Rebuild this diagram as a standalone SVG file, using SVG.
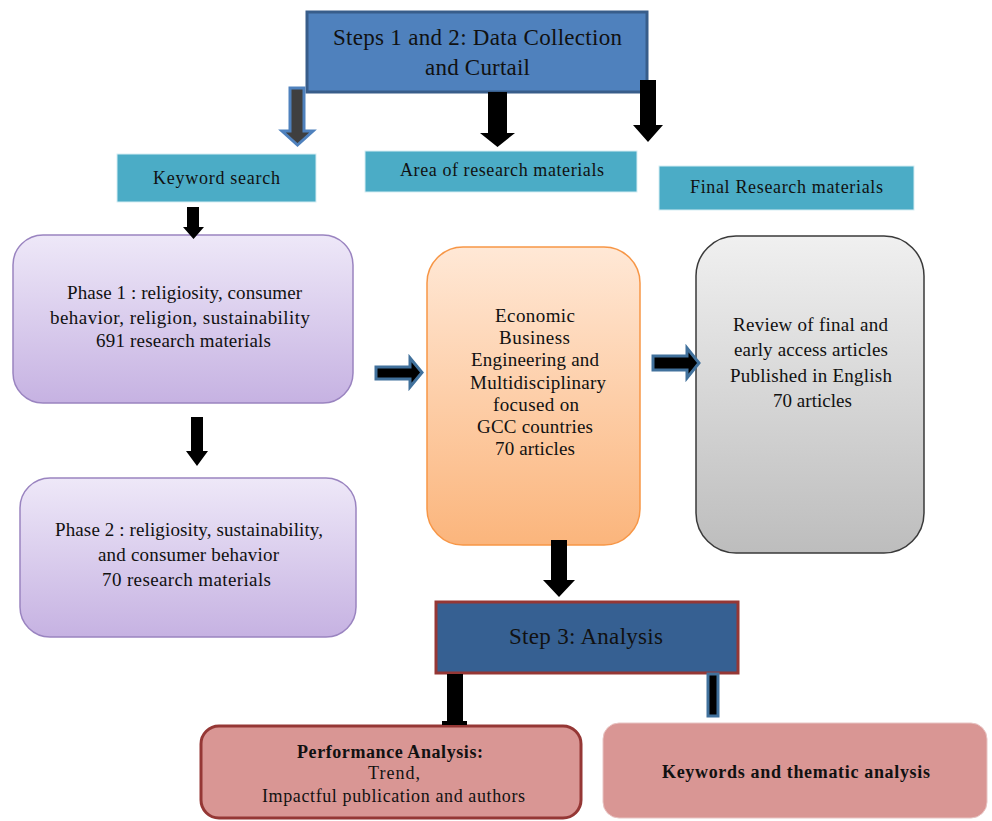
<svg xmlns="http://www.w3.org/2000/svg" width="992" height="821" viewBox="0 0 992 821">
<defs>
<linearGradient id="gPurple" x1="0" y1="0" x2="0" y2="1"><stop offset="0" stop-color="#EEE8F8"/><stop offset="1" stop-color="#C6B2E2"/></linearGradient>
<linearGradient id="gOrange" x1="0" y1="0" x2="0" y2="1"><stop offset="0" stop-color="#FFE8D6"/><stop offset="1" stop-color="#FBB57C"/></linearGradient>
<linearGradient id="gGray" x1="0" y1="0" x2="0" y2="1"><stop offset="0" stop-color="#F0F0F0"/><stop offset="1" stop-color="#BDBDBD"/></linearGradient>
<style>
text{fill:#111;text-anchor:middle}
.t22{font-size:23px}
.t17{font-size:18px}
.t18{font-size:19px}
.b{font-weight:bold}
.lbl{fill:#4BACC6;stroke:#D5EDF3;stroke-width:1}
.blk{fill:#000}
.blu{fill:#000;stroke:#41719C;stroke-width:3;stroke-linejoin:miter}
</style>
</defs>
<rect width="992" height="821" fill="#fff"/>
<g id="nodes" font-family="'Liberation Serif', 'DejaVu Serif', serif">
<g id="step12">
<rect x="307" y="12" width="340" height="80" fill="#4F81BD" stroke="#385D8A" stroke-width="3"/>
<text class="t22" x="477.5" y="45" textLength="289" lengthAdjust="spacing">Steps 1 and 2: Data Collection</text>
<text class="t22" x="477.5" y="75" textLength="105" lengthAdjust="spacing">and Curtail</text>
</g>
<g id="keyword">
<rect class="lbl" x="117" y="154" width="199" height="48"/>
<text class="t17" x="216.5" y="184" textLength="127" lengthAdjust="spacing">Keyword search</text>
</g>
<g id="area">
<rect class="lbl" x="365" y="151" width="272" height="41"/>
<text class="t17" x="502" y="176" textLength="204" lengthAdjust="spacing">Area of research materials</text>
</g>
<g id="final">
<rect class="lbl" x="659" y="166" width="255" height="44"/>
<text class="t17" x="786.5" y="193" textLength="193" lengthAdjust="spacing">Final Research materials</text>
</g>
<g id="phase1">
<rect x="13" y="235" width="340" height="168" rx="30" fill="url(#gPurple)" stroke="#9A84C0" stroke-width="1.5"/>
<text class="t18" x="184.5" y="299" textLength="235" lengthAdjust="spacing">Phase 1 : religiosity, consumer</text>
<text class="t18" x="180" y="324" textLength="260" lengthAdjust="spacing">behavior, religion, sustainability</text>
<text class="t18" x="183.5" y="347" textLength="175" lengthAdjust="spacing">691 research materials</text>
</g>
<g id="phase2">
<rect x="20" y="478" width="336" height="159" rx="30" fill="url(#gPurple)" stroke="#9A84C0" stroke-width="1.5"/>
<text class="t18" x="189" y="536" textLength="268" lengthAdjust="spacing">Phase 2 : religiosity, sustainability,</text>
<text class="t18" x="188.5" y="561" textLength="181" lengthAdjust="spacing">and consumer behavior</text>
<text class="t18" x="186.5" y="586" textLength="169" lengthAdjust="spacing">70 research materials</text>
</g>
<g id="area-box">
<rect x="427" y="247" width="213" height="298" rx="36" fill="url(#gOrange)" stroke="#F79646" stroke-width="1.5"/>
<text class="t18" x="535" y="322" textLength="80" lengthAdjust="spacing">Economic</text>
<text class="t18" x="534.5" y="344" textLength="71" lengthAdjust="spacing">Business</text>
<text class="t18" x="535" y="366" textLength="128" lengthAdjust="spacing">Engineering and</text>
<text class="t18" x="538" y="389" textLength="136" lengthAdjust="spacing">Multidisciplinary</text>
<text class="t18" x="536" y="411" textLength="86" lengthAdjust="spacing">focused on</text>
<text class="t18" x="535" y="433" textLength="116" lengthAdjust="spacing">GCC countries</text>
<text class="t18" x="535" y="455" textLength="80" lengthAdjust="spacing">70 articles</text>
</g>
<g id="final-box">
<rect x="696" y="236" width="228" height="317" rx="40" fill="url(#gGray)" stroke="#3A3A3A" stroke-width="1.5"/>
<text class="t18" x="810.5" y="331" textLength="155" lengthAdjust="spacing">Review of final and</text>
<text class="t18" x="811" y="356" textLength="154" lengthAdjust="spacing">early access articles</text>
<text class="t18" x="811" y="382" textLength="162" lengthAdjust="spacing">Published in English</text>
<text class="t18" x="812.5" y="407" textLength="79" lengthAdjust="spacing">70 articles</text>
</g>
<g id="step3">
<rect x="436" y="602" width="302" height="71" fill="#366092" stroke="#953735" stroke-width="3"/>
<text class="t22" x="586" y="644" textLength="154" lengthAdjust="spacing">Step 3: Analysis</text>
</g>
<g id="performance">
<rect x="201" y="726" width="380" height="92" rx="18" fill="#D99694" stroke="#953735" stroke-width="3"/>
<text class="t17 b" x="390" y="758" textLength="186" lengthAdjust="spacing">Performance Analysis:</text>
<text class="t17" x="394" y="779" textLength="52" lengthAdjust="spacing">Trend,</text>
<text class="t17" x="393.5" y="802" textLength="263" lengthAdjust="spacing">Impactful publication and authors</text>
</g>
<g id="keywords">
<rect x="603" y="723" width="384" height="95" rx="16" fill="#D99694" stroke="#E8C4C3" stroke-width="1"/>
<text class="t17 b" x="796" y="778" textLength="268" lengthAdjust="spacing">Keywords and thematic analysis</text>
</g>
</g>
<g id="connectors">
<path d="M290 88 H304 V131 H313 L297.5 145 L282 131 H290 Z" fill="#3F3F3F" stroke="#4F81BD" stroke-width="3"/>
<path class="blk" d="M488 92 H507 V133 H515 L497.5 147 L480 133 H488 Z"/>
<path class="blk" d="M640 80 H656 V125 H663 L648 142 L633 125 H640 Z"/>
<path class="blk" d="M187 207 H199 V227 H204 L193.5 239 L183 227 H187 Z"/>
<path class="blk" d="M191 417 H203 V451 H208 L197 466 L186 451 H191 Z"/>
<path class="blu" d="M376 367 H410 V358 L422 372.5 L410 387 V379 H376 Z"/>
<path class="blu" d="M653 356 H687 V348 L699 363 L687 378 V370 H653 Z"/>
<path class="blk" d="M551 540 H567 V580 H575 L559 597 L543 580 H551 Z"/>
<path class="blk" d="M447 674 H463 V721 H467 V725 H442 V721 H447 Z"/>
<rect class="blu" x="708" y="674" width="10" height="42"/>
</g>
</svg>
